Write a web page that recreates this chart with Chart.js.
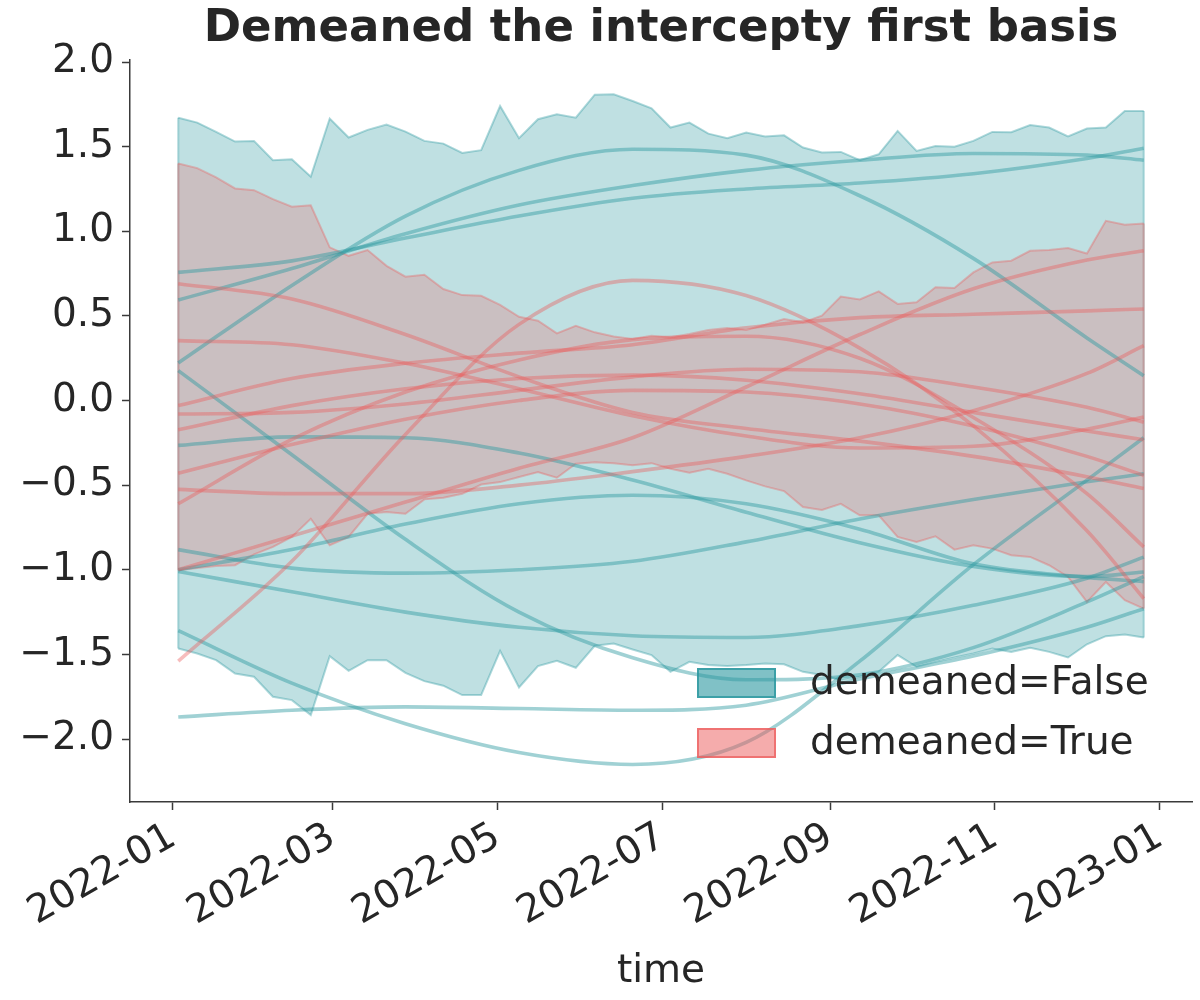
<!DOCTYPE html>
<html>
<head>
<meta charset="utf-8">
<script src="https://cdn.jsdelivr.net/npm/chart.js@4.4.0/dist/chart.umd.min.js"></script>
<style>
  html, body { margin: 0; padding: 0; background: #ffffff; }
  #wrap { width: 1200px; height: 1000px; }
</style>
</head>
<body>
<div id="wrap"><canvas id="c" width="1200" height="1000"></canvas></div>
<script>
// ---------- data ----------
const chartTitle = 'Demeaned the intercepty first basis';
const xAxisTitle = 'time';
const legendLabels = ['demeaned=False', 'demeaned=True'];

const xTickDates  = ['2022-01-01','2022-03-01','2022-05-01','2022-07-01','2022-09-01','2022-11-01','2023-01-01'];
const xTickLabels = ['2022-01','2022-03','2022-05','2022-07','2022-09','2022-11','2023-01'];
const yTicks = [-2.0, -1.5, -1.0, -0.5, 0.0, 0.5, 1.0, 1.5, 2.0];

const bandDates = [
  '2022-01-03','2022-01-10','2022-01-17','2022-01-24','2022-01-31',
  '2022-02-07','2022-02-14','2022-02-21','2022-02-28',
  '2022-03-07','2022-03-14','2022-03-21','2022-03-28',
  '2022-04-04','2022-04-11','2022-04-18','2022-04-25',
  '2022-05-02','2022-05-09','2022-05-16','2022-05-23','2022-05-30',
  '2022-06-06','2022-06-13','2022-06-20','2022-06-27',
  '2022-07-04','2022-07-11','2022-07-18','2022-07-25',
  '2022-08-01','2022-08-08','2022-08-15','2022-08-22','2022-08-29',
  '2022-09-05','2022-09-12','2022-09-19','2022-09-26',
  '2022-10-03','2022-10-10','2022-10-17','2022-10-24','2022-10-31',
  '2022-11-07','2022-11-14','2022-11-21','2022-11-28',
  '2022-12-05','2022-12-12','2022-12-19','2022-12-26'
];

const tealUpper = [1.671,1.642,1.587,1.530,1.534,1.420,1.426,1.323,1.666,1.554,
  1.599,1.630,1.589,1.534,1.518,1.463,1.479,1.740,1.550,1.662,
  1.691,1.671,1.807,1.809,1.770,1.727,1.613,1.642,1.577,1.550,
  1.583,1.560,1.567,1.495,1.465,1.469,1.420,1.455,1.593,1.475,
  1.504,1.499,1.534,1.587,1.585,1.628,1.613,1.560,1.607,1.613,
  1.711,1.711];
const tealLower = [-1.465,-1.495,-1.534,-1.613,-1.632,-1.750,-1.770,-1.858,-1.510,-1.597,
  -1.534,-1.534,-1.609,-1.658,-1.685,-1.740,-1.740,-1.479,-1.695,-1.569,
  -1.538,-1.579,-1.449,-1.436,-1.471,-1.504,-1.603,-1.544,-1.563,-1.569,
  -1.563,-1.554,-1.558,-1.603,-1.622,-1.652,-1.632,-1.603,-1.504,-1.573,
  -1.544,-1.518,-1.495,-1.465,-1.485,-1.461,-1.485,-1.518,-1.440,-1.392,
  -1.383,-1.400];
const redUpper = [1.400,1.373,1.318,1.253,1.243,1.190,1.145,1.154,0.905,0.855,
  0.889,0.796,0.732,0.743,0.659,0.623,0.619,0.565,0.495,0.472,
  0.397,0.442,0.403,0.378,0.364,0.383,0.374,0.393,0.417,0.429,
  0.417,0.448,0.482,0.462,0.501,0.614,0.597,0.645,0.571,0.580,
  0.669,0.665,0.757,0.816,0.826,0.885,0.889,0.901,0.869,1.062,
  1.038,1.046];
const redLower = [-1.003,-0.989,-0.977,-0.973,-0.909,-0.865,-0.806,-0.698,-0.855,-0.806,
  -0.669,-0.659,-0.669,-0.584,-0.574,-0.551,-0.496,-0.482,-0.452,-0.423,
  -0.456,-0.373,-0.364,-0.370,-0.383,-0.370,-0.403,-0.427,-0.403,-0.433,
  -0.472,-0.507,-0.535,-0.629,-0.647,-0.610,-0.678,-0.678,-0.806,-0.836,
  -0.802,-0.881,-0.855,-0.875,-0.914,-0.924,-0.973,-1.042,-1.190,-1.072,
  -1.180,-1.229];

const lineDates = ['2022-01-03','2022-02-14','2022-03-28','2022-05-09','2022-06-20',
                   '2022-08-01','2022-09-12','2022-10-24','2022-12-05','2022-12-26'];

const teal1  = [0.757, 0.825, 0.96, 1.09, 1.195, 1.25, 1.285, 1.34, 1.43, 1.49];
const teal2  = [0.594, 0.78, 0.985, 1.155, 1.27, 1.36, 1.42, 1.46, 1.45, 1.42];
const teal3  = [0.222, 0.68, 1.09, 1.36, 1.485, 1.45, 1.21, 0.84, 0.37, 0.147];
const teal4  = [0.177, -0.32, -0.82, -1.25, -1.52, -1.65, -1.62, -1.46, -1.19, -1.04];
const teal5  = [-0.265, -0.215, -0.22, -0.31, -0.47, -0.66, -0.84, -0.98, -1.04, -1.013];
const teal6  = [-0.881, -0.99, -1.02, -1.0, -0.95, -0.835, -0.70, -0.585, -0.48, -0.433];
const teal7  = [-1.0, -0.88, -0.73, -0.61, -0.56, -0.61, -0.76, -0.965, -1.045, -1.07];
const teal8  = [-1.01, -1.13, -1.25, -1.34, -1.39, -1.40, -1.33, -1.21, -1.05, -0.925];
const teal9  = [-1.36, -1.67, -1.91, -2.08, -2.15, -2.02, -1.54, -0.97, -0.47, -0.22];
const teal10 = [-1.87, -1.83, -1.81, -1.82, -1.83, -1.80, -1.645, -1.51, -1.34, -1.23];

const red1  = [0.69, 0.60, 0.39, 0.14, -0.07, -0.165, -0.24, -0.33, -0.45, -0.52];
const red2  = [0.354, 0.33, 0.22, 0.07, -0.09, -0.21, -0.28, -0.27, -0.17, -0.098];
const red3  = [-0.03, 0.13, 0.22, 0.28, 0.33, 0.43, 0.49, 0.51, 0.53, 0.541];
const red4  = [-0.08, -0.07, -0.02, 0.06, 0.14, 0.185, 0.17, 0.08, -0.04, -0.128];
const red5  = [-0.173, -0.03, 0.07, 0.13, 0.15, 0.12, 0.04, -0.07, -0.18, -0.232];
const red6  = [-0.43, -0.26, -0.11, 0.0, 0.06, 0.05, -0.02, -0.15, -0.33, -0.442];
const red7  = [-0.525, -0.55, -0.55, -0.50, -0.42, -0.33, -0.22, -0.06, 0.16, 0.324];
const red8  = [-0.61, -0.23, 0.05, 0.24, 0.36, 0.38, 0.25, -0.10, -0.55, -0.865];
const red9  = [-1.0, -0.80, -0.60, -0.40, -0.22, 0.08, 0.39, 0.66, 0.83, 0.885];
const red10 = [-1.54, -0.95, -0.2, 0.45, 0.71, 0.62, 0.31, -0.15, -0.77, -1.17];

const tealLines = [teal1, teal2, teal3, teal4, teal5, teal6, teal7, teal8, teal9, teal10];
const redLines  = [red1, red2, red3, red4, red5, red6, red7, red8, red9, red10];

// ---------- helpers ----------
const DAY0 = Date.UTC(2022, 0, 1);
function day(s) {
  return (Date.UTC(+s.slice(0, 4), +s.slice(5, 7) - 1, +s.slice(8, 10)) - DAY0) / 86400000;
}
function pts(dates, vals) { return dates.map((d, i) => ({ x: day(d), y: vals[i] })); }

const TEAL = '44,152,160';
const RED  = '236,90,90';
const FONT = "'DejaVu Sans', 'Liberation Sans', sans-serif";
const TXT = '#262626';
const AXC = '#3a3a3a';
const FS = 39;

const datasets = [];
// teal band
datasets.push({ data: pts(bandDates, tealLower), borderColor: `rgba(${TEAL},0.38)`, borderWidth: 2,
  pointRadius: 0, fill: false, tension: 0, order: 10 });
datasets.push({ data: pts(bandDates, tealUpper), borderColor: `rgba(${TEAL},0.38)`, borderWidth: 2,
  backgroundColor: `rgba(${TEAL},0.30)`, pointRadius: 0, fill: '-1', tension: 0, order: 10 });
datasets.push({ data: [{ x: day(bandDates[0]), y: tealUpper[0] }, { x: day(bandDates[0]), y: tealLower[0] }],
  borderColor: `rgba(${TEAL},0.38)`, borderWidth: 2, pointRadius: 0, fill: false, order: 10 });
datasets.push({ data: [{ x: day(bandDates[51]), y: tealUpper[51] }, { x: day(bandDates[51]), y: tealLower[51] }],
  borderColor: `rgba(${TEAL},0.38)`, borderWidth: 2, pointRadius: 0, fill: false, order: 10 });
// red band
datasets.push({ data: pts(bandDates, redLower), borderColor: `rgba(${RED},0.35)`, borderWidth: 2,
  pointRadius: 0, fill: false, tension: 0, order: 9 });
datasets.push({ data: pts(bandDates, redUpper), borderColor: `rgba(${RED},0.35)`, borderWidth: 2,
  backgroundColor: `rgba(${RED},0.25)`, pointRadius: 0, fill: '-1', tension: 0, order: 9 });
datasets.push({ data: [{ x: day(bandDates[0]), y: redUpper[0] }, { x: day(bandDates[0]), y: redLower[0] }],
  borderColor: `rgba(${RED},0.35)`, borderWidth: 2, pointRadius: 0, fill: false, order: 9 });
datasets.push({ data: [{ x: day(bandDates[51]), y: redUpper[51] }, { x: day(bandDates[51]), y: redLower[51] }],
  borderColor: `rgba(${RED},0.35)`, borderWidth: 2, pointRadius: 0, fill: false, order: 9 });
// lines
tealLines.forEach(v => datasets.push({ data: pts(lineDates, v), borderColor: `rgba(${TEAL},0.45)`,
  borderWidth: 3.6, pointRadius: 0, fill: false, cubicInterpolationMode: 'monotone', order: 2 }));
redLines.forEach(v => datasets.push({ data: pts(lineDates, v), borderColor: `rgba(${RED},0.40)`,
  borderWidth: 3.6, pointRadius: 0, fill: false, cubicInterpolationMode: 'monotone', order: 1 }));

// custom legend drawn inside the plot area (lower right)
const insideLegend = {
  id: 'insideLegend',
  afterDraw(chart) {
    const ctx = chart.ctx;
    const ca = chart.chartArea;
    const items = [
      { text: legendLabels[0], fill: `rgba(${TEAL},0.60)`, stroke: `rgba(${TEAL},0.80)` },
      { text: legendLabels[1], fill: `rgba(${RED},0.50)`, stroke: `rgba(${RED},0.70)` }
    ];
    const px = ca.right - 495, pw = 79, ph = 30;
    const y0 = ca.bottom - 134, rowH = 60;
    ctx.save();
    ctx.font = `${FS}px ${FONT}`;
    ctx.textBaseline = 'middle';
    ctx.textAlign = 'left';
    items.forEach((it, i) => {
      const y = y0 + i * rowH;
      ctx.fillStyle = it.fill;
      ctx.fillRect(px, y, pw, ph);
      ctx.lineWidth = 2;
      ctx.strokeStyle = it.stroke;
      ctx.strokeRect(px + 1, y + 1, pw - 2, ph - 2);
      ctx.fillStyle = TXT;
      ctx.fillText(it.text, px + 113, y + ph / 2 + 1);
    });
    ctx.restore();
  }
};

function fmtY(v) {
  const s = Math.abs(v).toFixed(1);
  return (v < -1e-9 ? '\u2212' : '') + s;
}

new Chart(document.getElementById('c'), {
  type: 'line',
  data: { datasets },
  options: {
    responsive: false,
    devicePixelRatio: 1,
    animation: false,
    parsing: false,
    normalized: true,
    layout: { padding: { left: 0, right: 8, top: 0, bottom: 0 } },
    plugins: {
      legend: { display: false },
      tooltip: { enabled: false },
      title: {
        display: true, text: chartTitle, fullSize: false,
        font: { family: FONT, size: 45, weight: 'bold' }, color: TXT,
        padding: { top: 2, bottom: 4 }
      }
    },
    scales: {
      x: {
        type: 'linear',
        min: -15.85, max: 376.85,
        afterBuildTicks: s => { s.ticks = xTickDates.map(d => ({ value: day(d) })); },
        afterFit: s => { s.height = 198; },
        ticks: {
          autoSkip: false, minRotation: 30, maxRotation: 30, padding: 4,
          font: { family: FONT, size: FS }, color: TXT,
          callback: (v, i) => xTickLabels[i]
        },
        grid: { drawOnChartArea: false, drawTicks: true, tickLength: 8, tickColor: AXC, tickWidth: 1.5 },
        border: { display: true, color: AXC, width: 1.5 },
        title: { display: true, text: xAxisTitle, font: { family: FONT, size: FS }, color: TXT,
                 padding: { top: 4, bottom: 5 } }
      },
      y: {
        type: 'linear',
        min: -2.372, max: 2.012,
        afterBuildTicks: s => { s.ticks = yTicks.map(v => ({ value: v })); },
        afterFit: s => { s.width = 130; },
        ticks: { padding: 8, font: { family: FONT, size: FS }, color: TXT, callback: v => fmtY(v) },
        grid: { drawOnChartArea: false, drawTicks: true, tickLength: 8, tickColor: AXC, tickWidth: 1.5 },
        border: { display: true, color: AXC, width: 1.5 }
      }
    }
  },
  plugins: [insideLegend]
});
</script>
</body>
</html>
